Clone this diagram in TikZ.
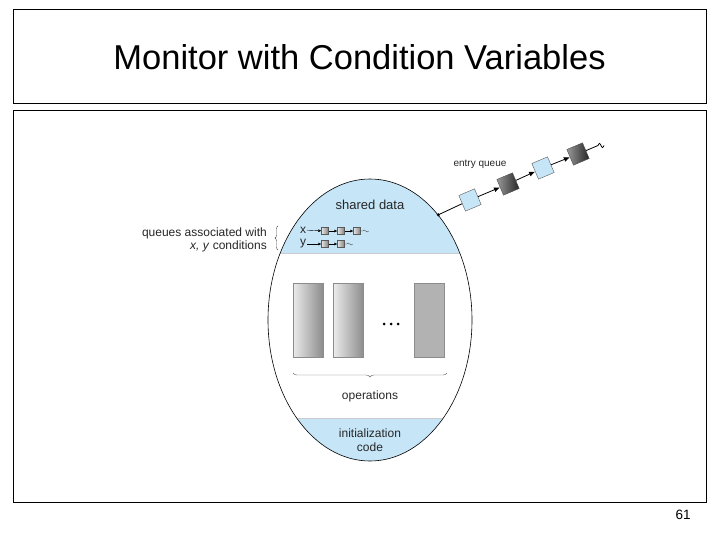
\documentclass[tikz,border=0pt]{standalone}
\usepackage{fontspec}
\setmainfont{Liberation Sans}
\usetikzlibrary{positioning,arrows.meta,shapes.geometric,decorations.pathreplacing}

\definecolor{monblue}{RGB}{198,230,248}

\begin{document}
\begin{tikzpicture}[x=1pt, y=-1pt,
    lbl/.style={font=\fontsize{12}{13.5}\selectfont, text=black!85, inner sep=1pt},
    qbox/.style={draw=black!65, fill=monblue, minimum size=17pt, inner sep=0pt, rotate=23},
    qdark/.style={draw=black!70, left color=black!40, right color=black!85, minimum size=17pt, inner sep=0pt, rotate=23},
    cbox/.style={draw=black!65, left color=black!10, right color=black!50, minimum size=7pt, inner sep=0pt},
    opbox/.style={draw=black!45, left color=black!8, right color=black!45, minimum width=30pt, minimum height=74pt, inner sep=0pt}]
    \useasboundingbox (0,0) rectangle (720,540);
    \node[draw, line width=1pt, minimum width=693pt, minimum height=94pt, font=\fontsize{34.5}{38}\selectfont] (title) at (359.5,57) {Monitor with Condition Variables};
    \node[draw, line width=1pt, minimum width=693pt, minimum height=391pt] (panel) at (359.5,306.5) {};
    \node[font=\fontsize{13.5}{15}\selectfont] (page) at (683,515) {61};
    % monitor body
    \begin{scope}
      \clip (370,320) ellipse [x radius=102pt, y radius=141pt];
      \fill[monblue] (260,170) rectangle (480,253);
      \fill[monblue] (260,418) rectangle (480,470);
      \draw[black!20] (260,253) -- (480,253);
      \draw[black!20] (260,418) -- (480,418);
    \end{scope}
    \node[draw, ellipse, line width=0.6pt, minimum width=204pt, minimum height=282pt, inner sep=0pt] (monitor) at (370,320) {};
    \node[lbl, font=\fontsize{13}{15}\selectfont] (shared) at (370,205) {shared data};
    % condition queues
    \node[lbl] (xv) at (303,230) {x};
    \node[lbl] (yv) at (303,244) {y};
    \node[cbox] (x1) at (325,231) {};
    \node[cbox] (x2) at (341,231) {};
    \node[cbox] (x3) at (357,231) {};
    \node[cbox] (y1) at (325,244) {};
    \node[cbox] (y2) at (341,244) {};
    \draw[-{Latex[length=3pt,width=3pt]}] (xv) -- (x1);
    \draw[-{Latex[length=3pt,width=3pt]}] (x1) -- (x2);
    \draw[-{Latex[length=3pt,width=3pt]}] (x2) -- (x3);
    \draw[-{Latex[length=3pt,width=3pt]}] (yv) -- (y1);
    \draw[-{Latex[length=3pt,width=3pt]}] (y1) -- (y2);
    \draw[black!70] (x3.east) -- ++(2,0) sin ++(1.5,-1) cos ++(1.5,1) sin ++(1.5,1) cos ++(1.5,-1);
    \draw[black!70] (y2.east) -- ++(2,0) sin ++(1.5,-1) cos ++(1.5,1) sin ++(1.5,1) cos ++(1.5,-1);
    \node[lbl, align=right, anchor=east] (qlabel) at (268,240) {queues associated with\\\textit{x, y} conditions};
    \draw[black!70, decorate, decoration={brace, amplitude=3pt}] (278,250) -- (278,226);
    % operations
    \node[opbox] (op1) at (308,320) {};
    \node[opbox] (op2) at (348.5,320) {};
    \node[opbox, left color=black!30, right color=black!30] (op3) at (429.5,320) {};
    \foreach \dx in {-7,0,7}
      \fill (391+\dx,324) circle (1.5pt);
    \draw[black!60, decorate, decoration={brace, mirror, amplitude=4pt}] (293,373) -- (447,373);
    \node[lbl] (ops) at (370,396) {operations};
    \node[lbl, align=center] (init) at (370,440) {initialization\\code};
    % entry queue
    \coordinate (door) at (monitor.57);
    \fill (door) circle (1.7pt);
    \node[qbox] (e1) at (470,200) {};
    \node[qdark] (e2) at (508,184) {};
    \node[qbox] (e3) at (543,168) {};
    \node[qdark] (e4) at (578,154) {};
    \draw[line width=0.8pt] (door) -- (e1);
    \draw[line width=0.8pt, -{Latex[length=6pt,width=5pt]}] (e1) -- (e2);
    \draw[line width=0.8pt, -{Latex[length=6pt,width=5pt]}] (e2) -- (e3);
    \draw[line width=0.8pt, -{Latex[length=6pt,width=5pt]}] (e3) -- (e4);
    \draw[line width=0.8pt] (e4) -- ++(20,-8.5) sin ++(1.5,-2) cos ++(1.5,2) sin ++(1.5,2) cos ++(1.5,-2);
    \node[lbl, font=\fontsize{10}{12}\selectfont] (entry) at (480,164) {entry queue};
  \end{tikzpicture}
\end{document}
